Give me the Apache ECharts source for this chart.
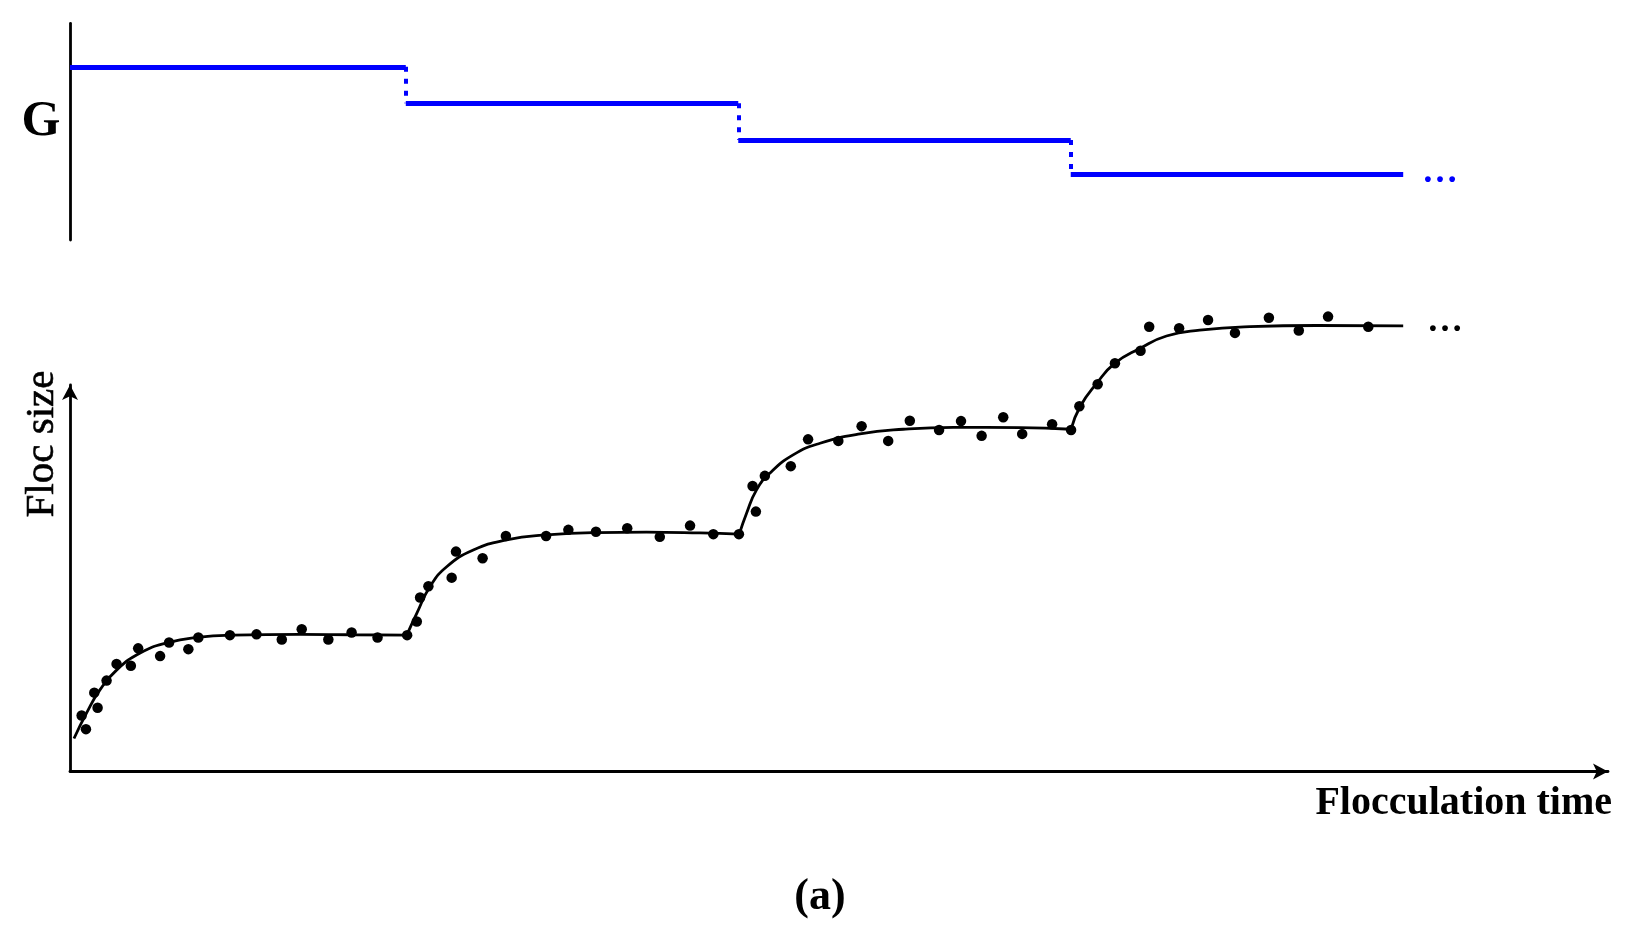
<!DOCTYPE html>
<html><head><meta charset="utf-8">
<script src="https://cdn.jsdelivr.net/npm/echarts@6/dist/echarts.min.js"></script>
<style>html,body{margin:0;padding:0;background:#fff}#c{width:1632px;height:937px}</style>
</head><body><div id="c"></div>
<script>
// Shear-rate (G) stages
const stageStart = [0, 10.1, 20.1, 30.1];
const stageEnd = [10.1, 20.1, 30.1, 40.1];
const gLevels = [7.99, 6.31, 4.61, 3.02];

// Fitted floc-size curve, one array per stage [time, size]
const fit1 = [[0.12,8.5],[0.5,15.1],[0.9,21.0],[1.4,26.1],[2.11,30.5],[2.91,33.1],[3.91,34.6],[4.9,35.1],[6.92,35.3],[8.42,35.2],[10.13,35.1]];
const fit2 = [[10.13,35.1],[10.43,40.7],[10.83,47.6],[11.33,52.7],[12.13,57.0],[13.13,59.6],[14.34,60.9],[15.84,61.5],[17.34,61.6],[18.95,61.4],[20.13,61.1]];
const fit3 = [[20.13,61.1],[20.35,66.5],[20.65,72.5],[21.05,76.8],[21.75,81.5],[22.56,84.5],[23.76,86.9],[25.06,88.1],[26.57,88.6],[28.57,88.5],[30.11,88.1]];
const fit4 = [[30.11,88.1],[30.38,93.9],[30.88,99.9],[31.43,105.1],[32.18,108.9],[32.98,112.1],[33.98,113.6],[35.49,114.5],[37.49,114.8],[40.1,114.7]];

// Measured floc sizes [time, size]
const dots1 = [[0.35,14.4],[0.48,10.9],[0.73,20.3],[0.83,16.4],[1.10,23.4],[1.40,27.7],[1.83,27.2],[2.05,31.7],[2.71,29.7],[2.98,33.2],[3.56,31.5],[3.86,34.5],[4.81,35.1],[5.61,35.3],[6.37,34.0],[6.97,36.6],[7.77,34.0],[8.47,35.8],[9.25,34.5],[10.14,35.1]];
const dots2 = [[10.43,38.6],[10.53,44.8],[10.78,47.7],[11.48,49.9],[11.61,56.6],[12.41,54.9],[13.11,60.6],[14.32,60.6],[14.99,62.2],[15.82,61.7],[16.76,62.6],[17.74,60.4],[18.65,63.3],[19.35,61.1],[20.12,61.1]];
const dots3 = [[20.53,73.5],[20.63,66.9],[20.90,76.1],[21.68,78.6],[22.20,85.5],[23.11,85.1],[23.81,88.9],[24.61,85.1],[25.26,90.3],[26.14,87.9],[26.80,90.2],[27.42,86.4],[28.07,91.2],[28.64,86.9],[29.54,89.4],[30.11,87.9]];
const dots4 = [[30.36,94.0],[30.91,99.7],[31.43,105.1],[32.20,108.3],[32.46,114.5],[33.36,114.1],[34.23,116.2],[35.04,112.9],[36.06,116.8],[36.96,113.5],[37.84,117.1],[39.05,114.5]];

const labelG = 'G';
const labelY = 'Floc size';
const labelX = 'Flocculation time';
const labelPanel = '(a)';
const ellipsis = '…';

const SERIF = '"Liberation Serif", "DejaVu Serif", serif';
const BLUE = '#0000ff';

const hSegs = stageStart.map((s, i) => ({ coords: [[s, gLevels[i]], [stageEnd[i], gLevels[i]]] }));
const vSegs = gLevels.slice(0, -1).map((g, i) => ({ coords: [[stageEnd[i], g], [stageEnd[i], gLevels[i + 1]]] }));

const chart = echarts.init(document.getElementById('c'), null, { renderer: 'canvas' });
const fitSeries = [fit1, fit2, fit3, fit4].map(d => ({
  type: 'line', xAxisIndex: 1, yAxisIndex: 1, data: d, smooth: 0.5,
  symbol: 'none', clip: false, lineStyle: { color: '#000', width: 2.8 }, z: 3, silent: true
}));
const dotSeries = [dots1, dots2, dots3, dots4].map(d => ({
  type: 'scatter', xAxisIndex: 1, yAxisIndex: 1, data: d, symbolSize: 10.5,
  clip: false, itemStyle: { color: '#000', opacity: 1 }, z: 4, silent: true
}));

chart.setOption({
  animation: false,
  backgroundColor: '#fff',
  grid: [
    { left: 70, top: 23.3, width: 1538, height: 216.7 },
    { left: 70, top: 385, width: 1538, height: 386.5 }
  ],
  xAxis: [
    { type: 'value', gridIndex: 0, min: 0, max: 46.26, show: false },
    { type: 'value', gridIndex: 1, min: 0, max: 46.26,
      axisLine: { show: true, symbol: ['none', 'arrow'], symbolSize: [12, 15], lineStyle: { color: '#000', width: 2.8 } },
      axisTick: { show: false }, axisLabel: { show: false }, splitLine: { show: false } }
  ],
  yAxis: [
    { type: 'value', gridIndex: 0, min: 0, max: 10,
      axisLine: { show: true, onZero: false, lineStyle: { color: '#000', width: 2.8 } },
      axisTick: { show: false }, axisLabel: { show: false }, splitLine: { show: false } },
    { type: 'value', gridIndex: 1, min: 0, max: 99.49,
      axisLine: { show: true, onZero: false, symbol: ['none', 'arrow'], symbolSize: [12, 15], lineStyle: { color: '#000', width: 2.8 } },
      axisTick: { show: false }, axisLabel: { show: false }, splitLine: { show: false } }
  ],
  series: [
    { type: 'lines', coordinateSystem: 'cartesian2d', xAxisIndex: 0, yAxisIndex: 0, data: hSegs,
      lineStyle: { color: BLUE, width: 5, opacity: 1, cap: 'butt' }, silent: true, z: 3 },
    { type: 'lines', coordinateSystem: 'cartesian2d', xAxisIndex: 0, yAxisIndex: 0, data: vSegs,
      lineStyle: { color: BLUE, width: 4, opacity: 1, type: [5, 7], cap: 'butt' }, silent: true, z: 3 },
    ...fitSeries,
    ...dotSeries
  ],
  graphic: [
    { type: 'text', x: 41, y: 122.5, style: { text: labelG, align: 'center', verticalAlign: 'middle', font: 'bold 50px ' + SERIF, fill: '#000' } },
    { type: 'text', x: 42, y: 444, rotation: Math.PI / 2, style: { text: labelY, align: 'center', verticalAlign: 'middle', font: '41px ' + SERIF, fill: '#000', stroke: '#000', lineWidth: 0.6 } },
    { type: 'text', x: 1612, y: 804, style: { text: labelX, align: 'right', verticalAlign: 'middle', font: 'bold 40px ' + SERIF, fill: '#000' } },
    { type: 'text', x: 820, y: 898, style: { text: labelPanel, align: 'center', verticalAlign: 'middle', font: 'bold 44px ' + SERIF, fill: '#000' } },
    { type: 'text', x: 1440, y: 173, style: { text: ellipsis, align: 'center', verticalAlign: 'middle', font: 'bold 36px ' + SERIF, fill: BLUE } },
    { type: 'text', x: 1445, y: 322, style: { text: ellipsis, align: 'center', verticalAlign: 'middle', font: 'bold 36px ' + SERIF, fill: '#000' } }
  ]
});
</script></body></html>
